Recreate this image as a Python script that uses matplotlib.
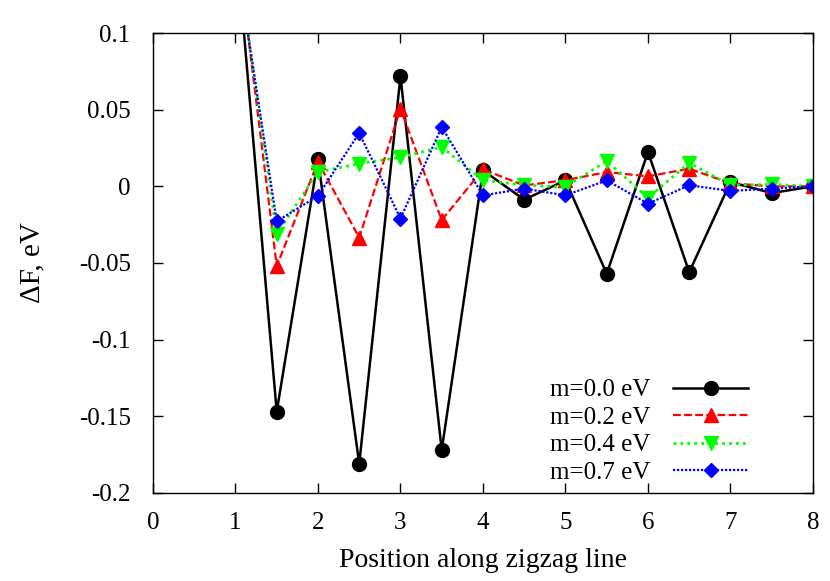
import matplotlib
matplotlib.use("Agg")
import matplotlib.pyplot as plt
from matplotlib.ticker import FuncFormatter

# positions along the zigzag line
positions = [1.0, 1.5, 2.0, 2.5, 3.0, 3.5, 4.0, 4.5, 5.0, 5.5, 6.0, 6.5, 7.0, 7.5, 8.0]

# free energy change for each gap value (eV); the x=1 point lies off the top of the plot
dF_m00 = [0.164, -0.147, 0.0176, -0.181, 0.0717, -0.172, 0.0104, -0.0087, 0.0039,
          -0.057, 0.0224, -0.056, 0.0028, -0.0044, 0.0]
dF_m02 = [0.165, -0.052, 0.016, -0.0335, 0.0507, -0.022, 0.011, 0.0006, 0.004,
          0.0093, 0.0065, 0.0115, 0.002, 0.0, 0.0]
dF_m04 = [0.158, -0.031, 0.0093, 0.0148, 0.019, 0.0256, 0.004, 0.0007, -0.0004,
          0.0165, -0.0074, 0.0152, 0.0007, 0.0013, 0.0]
dF_m07 = [0.152, -0.0228, -0.0063, 0.0348, -0.021, 0.0387, -0.0059, -0.0015, -0.0059,
          0.0039, -0.0113, 0.0007, -0.003, -0.0015, 0.0]

labels = ["m=0.0 eV", "m=0.2 eV", "m=0.4 eV", "m=0.7 eV"]

plt.rcParams['font.family'] = ['Liberation Serif', 'DejaVu Serif']

fig = plt.figure(figsize=(8.3, 5.81), dpi=100)
ax = fig.add_axes([0.1843, 0.1515, 0.7952, 0.7917])

ax.plot(positions, dF_m00, color='black', linestyle='-', linewidth=1.8,
        marker='o', markersize=10, label=labels[0])
ax.plot(positions, dF_m02, color='#ff0000', linestyle=(0, (3.5, 1.5)), linewidth=1.6,
        marker='^', markersize=9.5, label=labels[1])
ax.plot(positions, dF_m04, color='#00ff00', linestyle=(0, (1, 1.5)), linewidth=2.0,
        marker='v', markersize=9.5, label=labels[2])
ax.plot(positions, dF_m07, color='#0000ff', linestyle=(0, (1, 0.8)), linewidth=1.6,
        marker='D', markersize=7.5, label=labels[3])

ax.set_xlim(0, 8)
ax.set_ylim(-0.2, 0.1)
ax.set_xticks(range(0, 9))
ax.set_yticks([-0.2, -0.15, -0.1, -0.05, 0, 0.05, 0.1])
ax.yaxis.set_major_formatter(FuncFormatter(lambda v, p: '%g' % round(v, 3) if abs(v) > 1e-9 else '0'))

ax.tick_params(direction='in', top=True, right=True, length=7, width=1, labelsize=18)
ax.tick_params(axis='x', pad=14)
ax.tick_params(axis='y', pad=16)
for s in ax.spines.values():
    s.set_linewidth(1)

ax.set_xlabel('Position along zigzag line', fontsize=20, labelpad=10)
ax.set_ylabel('ΔF, eV', fontsize=21, labelpad=24)

ax.legend(loc='lower right', bbox_to_anchor=(0.902, 0.02), frameon=False,
          markerfirst=False, fontsize=18, handlelength=3.0, handletextpad=0.9,
          labelspacing=0.2, borderpad=0, borderaxespad=0)

fig.savefig('out.png', dpi=100)
